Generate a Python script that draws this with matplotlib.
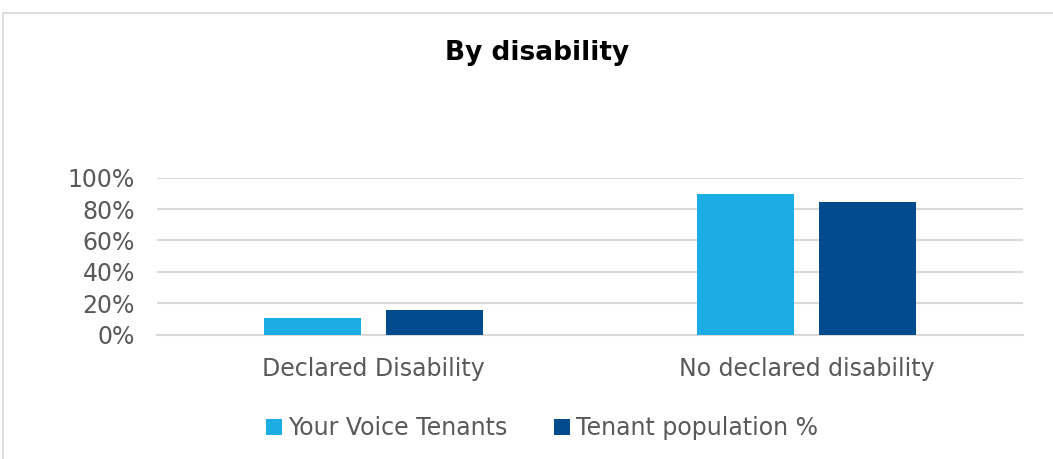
import matplotlib

matplotlib.use("Agg")
import matplotlib.pyplot as plt
import numpy as np
from matplotlib.patches import Rectangle
from matplotlib.ticker import FuncFormatter

categories = ["Declared Disability", "No declared disability"]
series_names = ["Your Voice Tenants", "Tenant population %"]
your_voice = [0.105, 0.894]
tenant_pop = [0.154, 0.843]
y_ticks = [0.0, 0.2, 0.4, 0.6, 0.8, 1.0]

LIGHT = "#1BADE3"
DARK = "#004B8D"
TEXT = "#595959"
GRID = "#D9D9D9"

plt.rcParams["font.family"] = ["DejaVu Sans"]

fig = plt.figure(figsize=(10.53, 4.59), dpi=100)
# chart frame
fig.patches.append(
    Rectangle((3 / 1053, -0.05), 1.1, 1 - 13 / 459 + 0.05, transform=fig.transFigure,
              fill=False, edgecolor=GRID, linewidth=1.2)
)
ax = fig.add_axes([157 / 1053, 1 - 334.5 / 459, 866 / 1053, 156.8 / 459])

x = np.arange(len(categories))
width = 0.224
offset = 0.142
ax.bar(x - offset, your_voice, width, color=LIGHT, label=series_names[0], zorder=3)
ax.bar(x + offset, tenant_pop, width, color=DARK, label=series_names[1], zorder=3)

ax.set_xlim(-0.5, len(categories) - 0.5)
ax.set_ylim(0, 1)
ax.set_yticks(y_ticks)
ax.yaxis.set_major_formatter(FuncFormatter(lambda v, _: f"{v:.0%}"))
ax.set_xticks(x, labels=categories)
ax.yaxis.grid(True, color=GRID, linewidth=1.5, zorder=0)
ax.set_axisbelow(True)
for side in ["top", "right", "left"]:
    ax.spines[side].set_visible(False)
ax.spines["bottom"].set_color(GRID)
ax.spines["bottom"].set_linewidth(1.5)
ax.tick_params(axis="both", length=0, labelsize=17, colors=TEXT)
ax.tick_params(axis="x", pad=16)
ax.tick_params(axis="y", pad=16)

fig.text(537 / 1053, 1 - 53 / 459, "By disability", ha="center", va="center",
         fontsize=19, fontweight="bold", color="black")

fig.legend(loc="center", bbox_to_anchor=(542 / 1053, 1 - 428 / 459), ncol=2,
           frameon=False, fontsize=17, labelcolor=TEXT, handlelength=0.65,
           handleheight=0.65, handletextpad=0.25, columnspacing=2.0)

fig.savefig("out.png", dpi=100)
